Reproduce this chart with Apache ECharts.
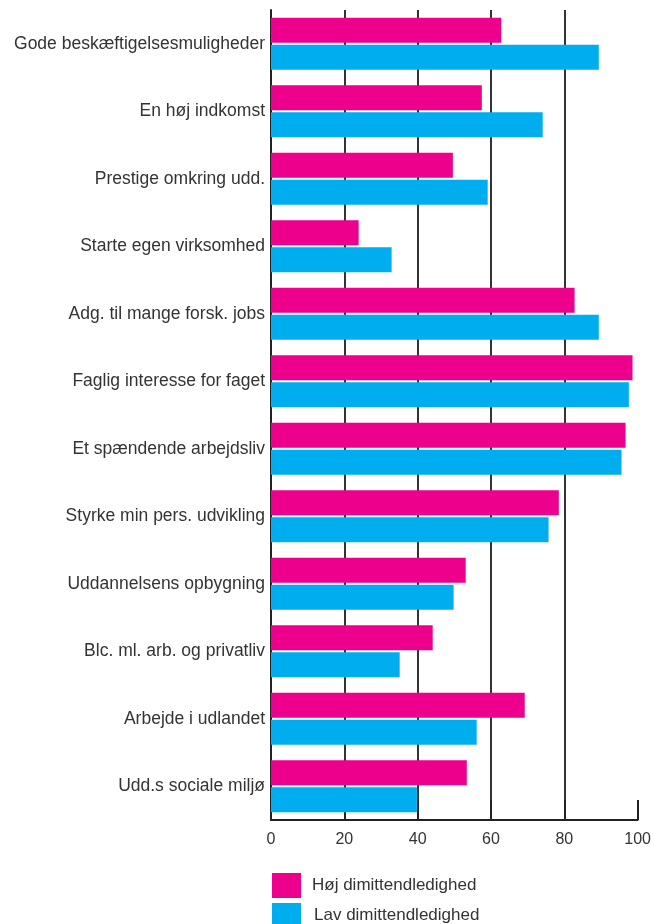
<!DOCTYPE html>
<html>
<head>
<meta charset="utf-8">
<script src="https://cdn.jsdelivr.net/npm/echarts@6/dist/echarts.min.js"></script>
<style>
html,body{margin:0;padding:0;background:#fff;}
#chart{width:654px;height:924px;}
</style>
</head>
<body>
<div id="chart"></div>
<script>
const categories = [
  "Gode beskæftigelsesmuligheder",
  "En høj indkomst",
  "Prestige omkring udd.",
  "Starte egen virksomhed",
  "Adg. til mange forsk. jobs",
  "Faglig interesse for faget",
  "Et spændende arbejdsliv",
  "Styrke min pers. udvikling",
  "Uddannelsens opbygning",
  "Blc. ml. arb. og privatliv",
  "Arbejde i udlandet",
  "Udd.s sociale miljø"
];
const hoejValues = [62.8, 57.5, 49.6, 23.9, 82.8, 98.6, 96.7, 78.5, 53.1, 44.1, 69.2, 53.4];
const lavValues  = [89.4, 74.1, 59.1, 32.9, 89.4, 97.6, 95.6, 75.7, 49.8, 35.1, 56.1, 39.8];
const seriesNames = ["Høj dimittendledighed", "Lav dimittendledighed"];
const xTicks = [0, 20, 40, 60, 80, 100];

const font = "'Liberation Sans', Arial, Helvetica, sans-serif";
const legendText = {fontSize: 17, color: '#333', fontFamily: font, padding: [0, 0, 0, 6]};
const chart = echarts.init(document.getElementById('chart'), null, {renderer: 'canvas'});
chart.setOption({
  animation: false,
  backgroundColor: '#fff',
  textStyle: {fontFamily: font},
  grid: {left: 271, right: 16, top: 10, bottom: 104, containLabel: false},
  legend: [
    {left: 272, top: 873, padding: 0, itemWidth: 29, itemHeight: 25, icon: 'rect',
     data: [seriesNames[0]], textStyle: legendText},
    {left: 272, top: 903, padding: 0, itemWidth: 29, itemHeight: 25, icon: 'rect',
     data: [seriesNames[1]], textStyle: Object.assign({}, legendText, {padding: [0, 0, 0, 8]})}
  ],
  xAxis: {
    type: 'value',
    min: xTicks[0], max: xTicks[xTicks.length - 1], interval: 20,
    axisLine: {show: true, lineStyle: {color: '#222', width: 2}},
    axisTick: {show: true, inside: true, length: 20, lineStyle: {color: '#222', width: 2}},
    axisLabel: {fontSize: 16, color: '#333', margin: 12, fontFamily: font},
    splitLine: {show: true, showMinLine: false, showMaxLine: false, lineStyle: {color: '#333', width: 2}}
  },
  yAxis: {
    type: 'category',
    inverse: true,
    data: categories,
    axisLine: {show: true, lineStyle: {color: '#222', width: 2}},
    axisTick: {show: false},
    axisLabel: {fontSize: 17.5, color: '#333', margin: 6, fontFamily: font},
    splitLine: {show: false}
  },
  series: [
    {name: seriesNames[0], type: 'bar', data: hoejValues, barWidth: 25, barGap: '8%',
     itemStyle: {color: '#EC008C'}},
    {name: seriesNames[1], type: 'bar', data: lavValues, barWidth: 25, barGap: '8%',
     itemStyle: {color: '#00AEEF'}}
  ]
});
</script>
</body>
</html>
